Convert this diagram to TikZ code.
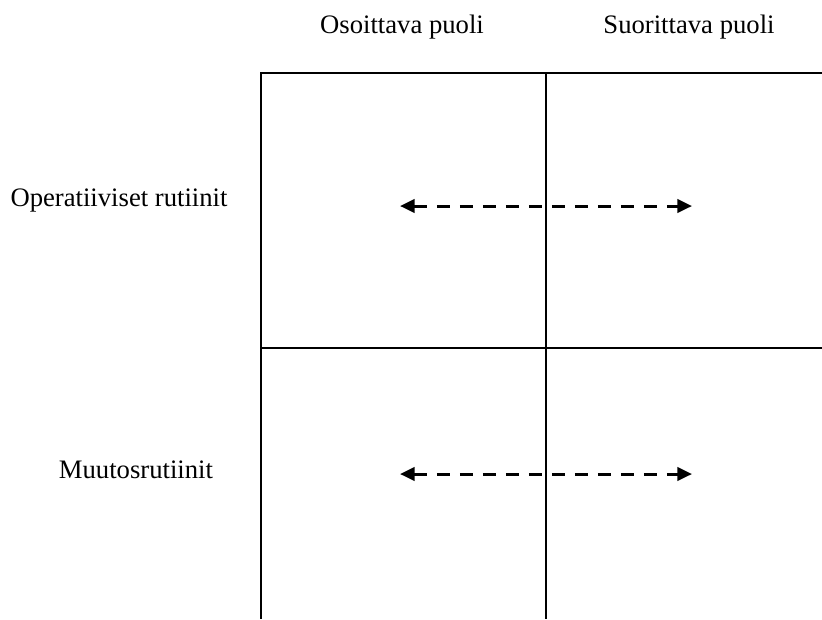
\documentclass[tikz,border=0pt]{standalone}
\usepackage{fontspec}
\setmainfont{Liberation Serif}
\usetikzlibrary{arrows.meta}
\begin{document}
\begin{tikzpicture}[x=0.75pt,y=-0.75pt,
  gridline/.style={line width=1.5pt},
  flow/.style={line width=2.25pt,dash pattern=on 9.75pt off 7.5pt,
    {Triangle[length=11pt,width=10pt]}-{Triangle[length=11pt,width=10pt]}},
  label/.style={font=\fontsize{20}{24}\selectfont,anchor=base,inner sep=0pt}]
\useasboundingbox (0,0) rectangle (822,619);

% column and row headings
\node[label] (hA) at (402,33) {Osoittava puoli};
\node[label] (hB) at (689,33) {Suorittava puoli};
\node[label] (r1) at (119,206) {Operatiiviset rutiinit};
\node[label] (r2) at (136,478) {Muutosrutiinit};

% grid corners
\coordinate (tl) at (261,73);
\coordinate (tm) at (546,73);
\coordinate (tr) at (822,73);
\coordinate (ml) at (261,348);
\coordinate (mr) at (822,348);
\coordinate (bl) at (261,619);
\coordinate (bm) at (546,619);

\draw[gridline] (tr) -- (tl) -- (bl);
\draw[gridline] (tm) -- (bm);
\draw[gridline] (ml) -- (mr);

% two-way flows across the divide
\coordinate (a1) at (400,206);
\coordinate (b1) at (692,206);
\coordinate (a2) at (400,474);
\coordinate (b2) at (692,474);
\draw[flow] (a1) -- (b1);
\draw[flow] (a2) -- (b2);
\end{tikzpicture}
\end{document}
